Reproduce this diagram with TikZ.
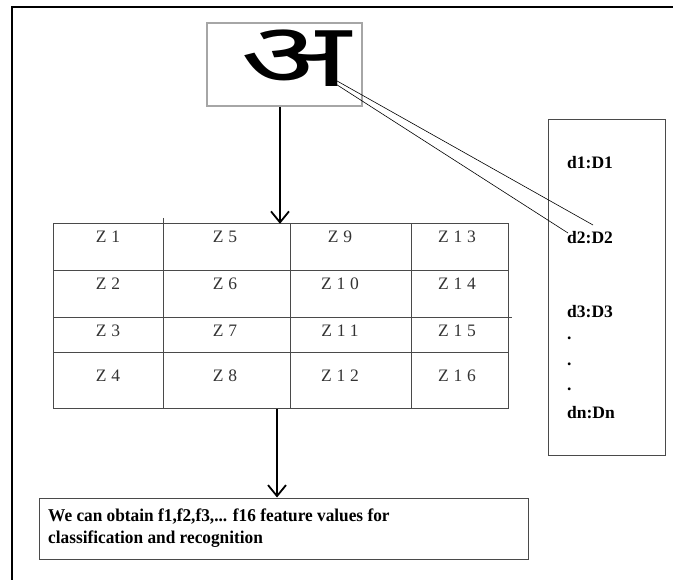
\documentclass[tikz,border=0pt]{standalone}
\usepackage{fontspec}
\setmainfont{Liberation Serif}
\newfontfamily\deva[Script=Devanagari]{Noto Sans}
\usetikzlibrary{arrows.meta}
\definecolor{grid}{HTML}{4A4A4A}
\definecolor{celltext}{HTML}{333333}
\tikzset{
  framebox/.style={draw=black, line width=2.4pt},
  gridline/.style={draw=grid, line width=1pt},
  boxline/.style={draw=grid, line width=1pt},
  cell/.style={text=celltext, font=\fontsize{17.5}{18}\selectfont\addfontfeature{LetterSpace=28}, inner sep=0pt},
  dlabel/.style={font=\bfseries\fontsize{17.5}{18}\selectfont, anchor=west, inner sep=0pt},
  flow/.style={draw=black, line width=2pt, -{Straight Barb[length=11pt, width=18pt, line width=1.8pt]}},
  thin/.style={draw=black, line width=0.6pt},
}
\begin{document}
\begin{tikzpicture}[x=1pt,y=-1pt]
\useasboundingbox (0,0) rectangle (673,580);
% outer frame
\draw[framebox] (12,580) -- (12,7) -- (673,7);
% image box
\node[draw=gray!70, line width=1.6pt, minimum width=155pt, minimum height=83pt, inner sep=0pt] (img) at (284.5,64.5) {};
\node[inner sep=0pt, xscale=1.8, yscale=1.12, font=\deva\bfseries\fontsize{80}{80}\selectfont] (ch) at (296,58.5) {अ};
% table
\node[minimum width=455pt, minimum height=185pt, inner sep=0pt] (tbl) at (280.5,316.5) {};
\draw[gridline] (53,224) rectangle (508,409);
\draw[gridline] (53,271) -- (508,271);
\draw[gridline] (53,318) -- (512,318);
\draw[gridline] (53,353) -- (508,353);
\draw[gridline] (163,218) -- (163,409);
\draw[gridline] (290,224) -- (290,409);
\draw[gridline] (411,224) -- (411,409);
\foreach \t/\x/\y in {1/108/237, 5/225/237, 9/340/237, 13/457/237,
                      2/108/284, 6/225/284, 10/340/284, 14/457/284,
                      3/108/331, 7/225/331, 11/340/331, 15/457/331,
                      4/108/376, 8/225/376, 12/340/376, 16/457/376}
  \node[cell] (z\t) at (\x,\y) {Z\t};
% right box
\node[boxline, minimum width=117pt, minimum height=336pt, inner sep=0pt] (dbox) at (606.5,288) {};
\node[dlabel] (d1) at (567,163) {d1:D1};
\node[dlabel] (d2) at (567,238) {d2:D2};
\node[dlabel] (d3) at (567,312) {d3:D3};
\node[dlabel] (dot1) at (567,338) {.};
\node[dlabel] (dot2) at (567,364) {.};
\node[dlabel] (dot3) at (567,389) {.};
\node[dlabel] (dn) at (567,413) {dn:Dn};
% result box
\node[boxline, minimum width=489pt, minimum height=61pt, inner sep=0pt] (res) at (283.5,528.5) {};
\node[anchor=north west, align=left, inner sep=0pt, font=\bfseries\fontsize{18}{22}\selectfont\addfontfeature{FakeStretch=0.96}] (restext) at (48,509) {We can obtain f1,f2,f3,... f16 feature values for\\classification and recognition};
% connectors
\draw[flow] (img.south -| 280,0) -- (tbl.north -| 280,0);
\draw[flow] (tbl.south -| 277,0) -- (res.north -| 277,0);
\coordinate (c1) at (330,77);
\coordinate (c2) at (331,81);
\coordinate (e1) at (593,225);
\coordinate (e2) at (568,233);
\draw[thin] (c1) -- (e1);
\draw[thin] (c2) -- (e2);
\end{tikzpicture}
\end{document}
